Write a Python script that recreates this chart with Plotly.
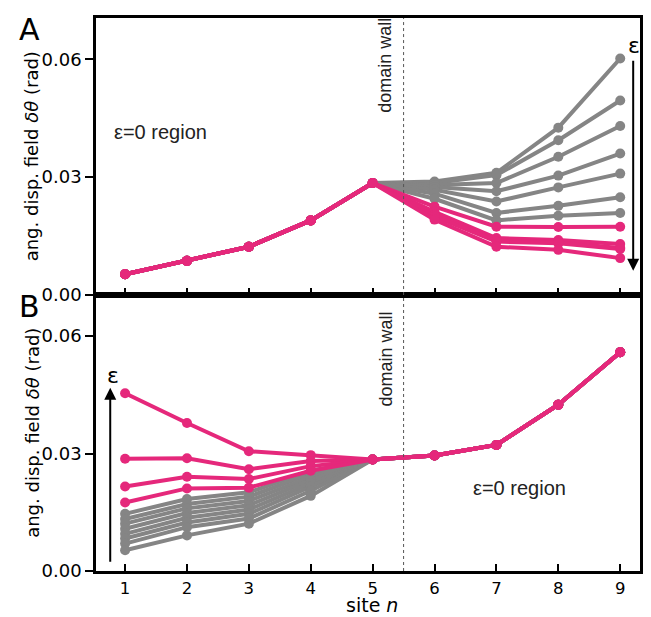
import plotly.graph_objects as go
from plotly.subplots import make_subplots

sites = [1, 2, 3, 4, 5, 6, 7, 8, 9]
tick_vals = [0.00, 0.03, 0.06]
tick_text = ["0.00", "0.03", "0.06"]

# Panel A: common left part (sites 1-5)
a_left = [0.0053, 0.0087, 0.0123, 0.0190, 0.0285]
# Panel A right part (sites 6-9), grey curves
a_grey_right = [
    [0.0289, 0.0311, 0.0426, 0.0602],
    [0.0285, 0.0305, 0.0394, 0.0495],
    [0.0280, 0.0285, 0.0352, 0.0430],
    [0.0275, 0.0264, 0.0304, 0.0360],
    [0.0268, 0.0238, 0.0274, 0.0309],
    [0.0258, 0.0209, 0.0227, 0.0249],
    [0.0245, 0.0190, 0.0202, 0.0209],
]
# Panel A right part, pink curves
a_pink_right = [
    [0.0225, 0.0174, 0.0173, 0.0174],
    [0.0212, 0.0145, 0.0140, 0.0130],
    [0.0205, 0.0140, 0.0134, 0.0120],
    [0.0200, 0.0136, 0.0132, 0.0117],
    [0.0192, 0.0123, 0.0115, 0.0094],
]

# Panel B: common right part (sites 5-9)
b_right = [0.0285, 0.0295, 0.0322, 0.0425, 0.0559]
# Panel B left part (sites 1-4), grey curves
b_grey_left = [
    [0.0146, 0.0184, 0.0201, 0.0256],
    [0.0133, 0.0171, 0.0190, 0.0248],
    [0.0121, 0.0160, 0.0179, 0.0240],
    [0.0108, 0.0148, 0.0168, 0.0232],
    [0.0095, 0.0136, 0.0157, 0.0224],
    [0.0083, 0.0124, 0.0146, 0.0216],
    [0.0070, 0.0112, 0.0134, 0.0205],
    [0.0053, 0.0091, 0.0121, 0.0192],
]
# Panel B left part, pink curves
b_pink_left = [
    [0.0454, 0.0378, 0.0306, 0.0296],
    [0.0287, 0.0288, 0.0260, 0.0281],
    [0.0216, 0.0241, 0.0235, 0.0268],
    [0.0175, 0.0211, 0.0213, 0.0256],
]

GREY = "#858585"
PINK = "#E5287B"
FONT = "DejaVu Sans"

fig = make_subplots(rows=2, cols=1, shared_xaxes=False, vertical_spacing=0.0)

def add_line(ys, color, row):
    fig.add_trace(go.Scatter(
        x=sites, y=ys, mode="lines+markers",
        line=dict(color=color, width=4),
        marker=dict(color=color, size=10),
        showlegend=False, hoverinfo="skip"), row=row, col=1)

for r in a_grey_right:
    add_line(a_left + r, GREY, 1)
for r in a_pink_right:
    add_line(a_left + r, PINK, 1)
for l in b_grey_left:
    add_line(l + b_right, GREY, 2)
for l in b_pink_left:
    add_line(l + b_right, PINK, 2)

xcommon = dict(range=[0.53, 9.32], tickvals=sites, ticks="inside", ticklen=7,
               tickwidth=2, tickcolor="black", showline=True, linecolor="black",
               linewidth=2.5, mirror=True, showgrid=False, zeroline=False, automargin=False,
               tickfont=dict(family=FONT, size=16.5, color="black"))
fig.update_xaxes(**xcommon)
fig.update_xaxes(showticklabels=False, row=1, col=1)

ycommon = dict(range=[0, 0.0705], tickvals=tick_vals, ticktext=tick_text, ticks="outside",
               ticklen=8, tickwidth=2, tickcolor="black", showline=True, linecolor="black",
               linewidth=2.5, mirror=True, showgrid=False, zeroline=False, automargin=False,
               tickfont=dict(family=FONT, size=18, color="black"))
fig.update_yaxes(**ycommon)

fig.update_layout(
    width=651, height=617,
    margin=dict(l=96, r=11, t=18, b=46, autoexpand=False),
    paper_bgcolor="white", plot_bgcolor="white",
)
fig.layout.yaxis.domain = [0.499, 1.0]
fig.layout.yaxis2.domain = [0.0, 0.499]

# axis titles
ytitle = "ang. disp. field <i>δθ</i> (rad)"
yfont = dict(family=FONT, size=18, color="black")
fig.add_annotation(xref="paper", yref="y domain", x=-0.118, y=0.5, text=ytitle, textangle=-90,
                   showarrow=False, xanchor="center", yanchor="middle", font=yfont)
fig.add_annotation(xref="paper", yref="y2 domain", x=-0.118, y=0.5, text=ytitle, textangle=-90,
                   showarrow=False, xanchor="center", yanchor="middle", font=yfont)
fig.add_annotation(xref="paper", yref="paper", x=0.507, y=-0.061, text="site <i>n</i>",
                   showarrow=False, xanchor="center", yanchor="middle",
                   font=dict(family=FONT, size=19, color="black"))

# domain wall lines
for ref in ["y", "y2"]:
    fig.add_shape(type="line", x0=5.5, x1=5.5, y0=0, y1=0.0705, xref="x" if ref == "y" else "x2",
                  yref=ref, line=dict(color="#555555", width=1, dash="dot"))

txtfont = dict(family="Liberation Sans", size=18, color="#222222")
fig.add_annotation(x=5.21, y=0.0585, xref="x", yref="y", text="domain wall", textangle=-90,
                   showarrow=False, font=txtfont)
fig.add_annotation(x=5.21, y=0.0542, xref="x2", yref="y2", text="domain wall", textangle=-90,
                   showarrow=False, font=txtfont)
regfont = dict(family="Liberation Sans", size=20, color="#222222")
fig.add_annotation(x=1.57, y=0.0414, xref="x", yref="y", text="ε=0 region",
                   showarrow=False, font=regfont)
fig.add_annotation(x=7.38, y=0.0213, xref="x2", yref="y2", text="ε=0 region",
                   showarrow=False, font=regfont)

# epsilon arrows
fig.add_annotation(x=9.21, y=0.0062, ax=9.21, ay=0.0600, xref="x", yref="y", axref="x", ayref="y",
                   showarrow=True, arrowhead=2, arrowsize=1.2, arrowwidth=2, arrowcolor="black", text="")
fig.add_annotation(x=9.23, y=0.0636, xref="x", yref="y", text="ε", showarrow=False,
                   font=dict(family=FONT, size=22, color="black"))
fig.add_annotation(x=0.76, y=0.0468, ax=0.76, ay=0.0020, xref="x2", yref="y2", axref="x2", ayref="y2",
                   showarrow=True, arrowhead=2, arrowsize=1.2, arrowwidth=2, arrowcolor="black", text="")
fig.add_annotation(x=0.80, y=0.0500, xref="x2", yref="y2", text="ε", showarrow=False,
                   font=dict(family=FONT, size=22, color="black"))

# panel labels
fig.add_annotation(xref="x domain", yref="y domain", x=-0.145, y=1.03, text="A", showarrow=False,
                   font=dict(family=FONT, size=30, color="black"))
fig.add_annotation(xref="x2 domain", yref="y2 domain", x=-0.145, y=1.03, text="B", showarrow=False,
                   font=dict(family=FONT, size=30, color="black"))

fig.write_html("out.html", config={"displayModeBar": False},
               post_script="document.body.style.margin='0';document.body.style.overflow='hidden';")
